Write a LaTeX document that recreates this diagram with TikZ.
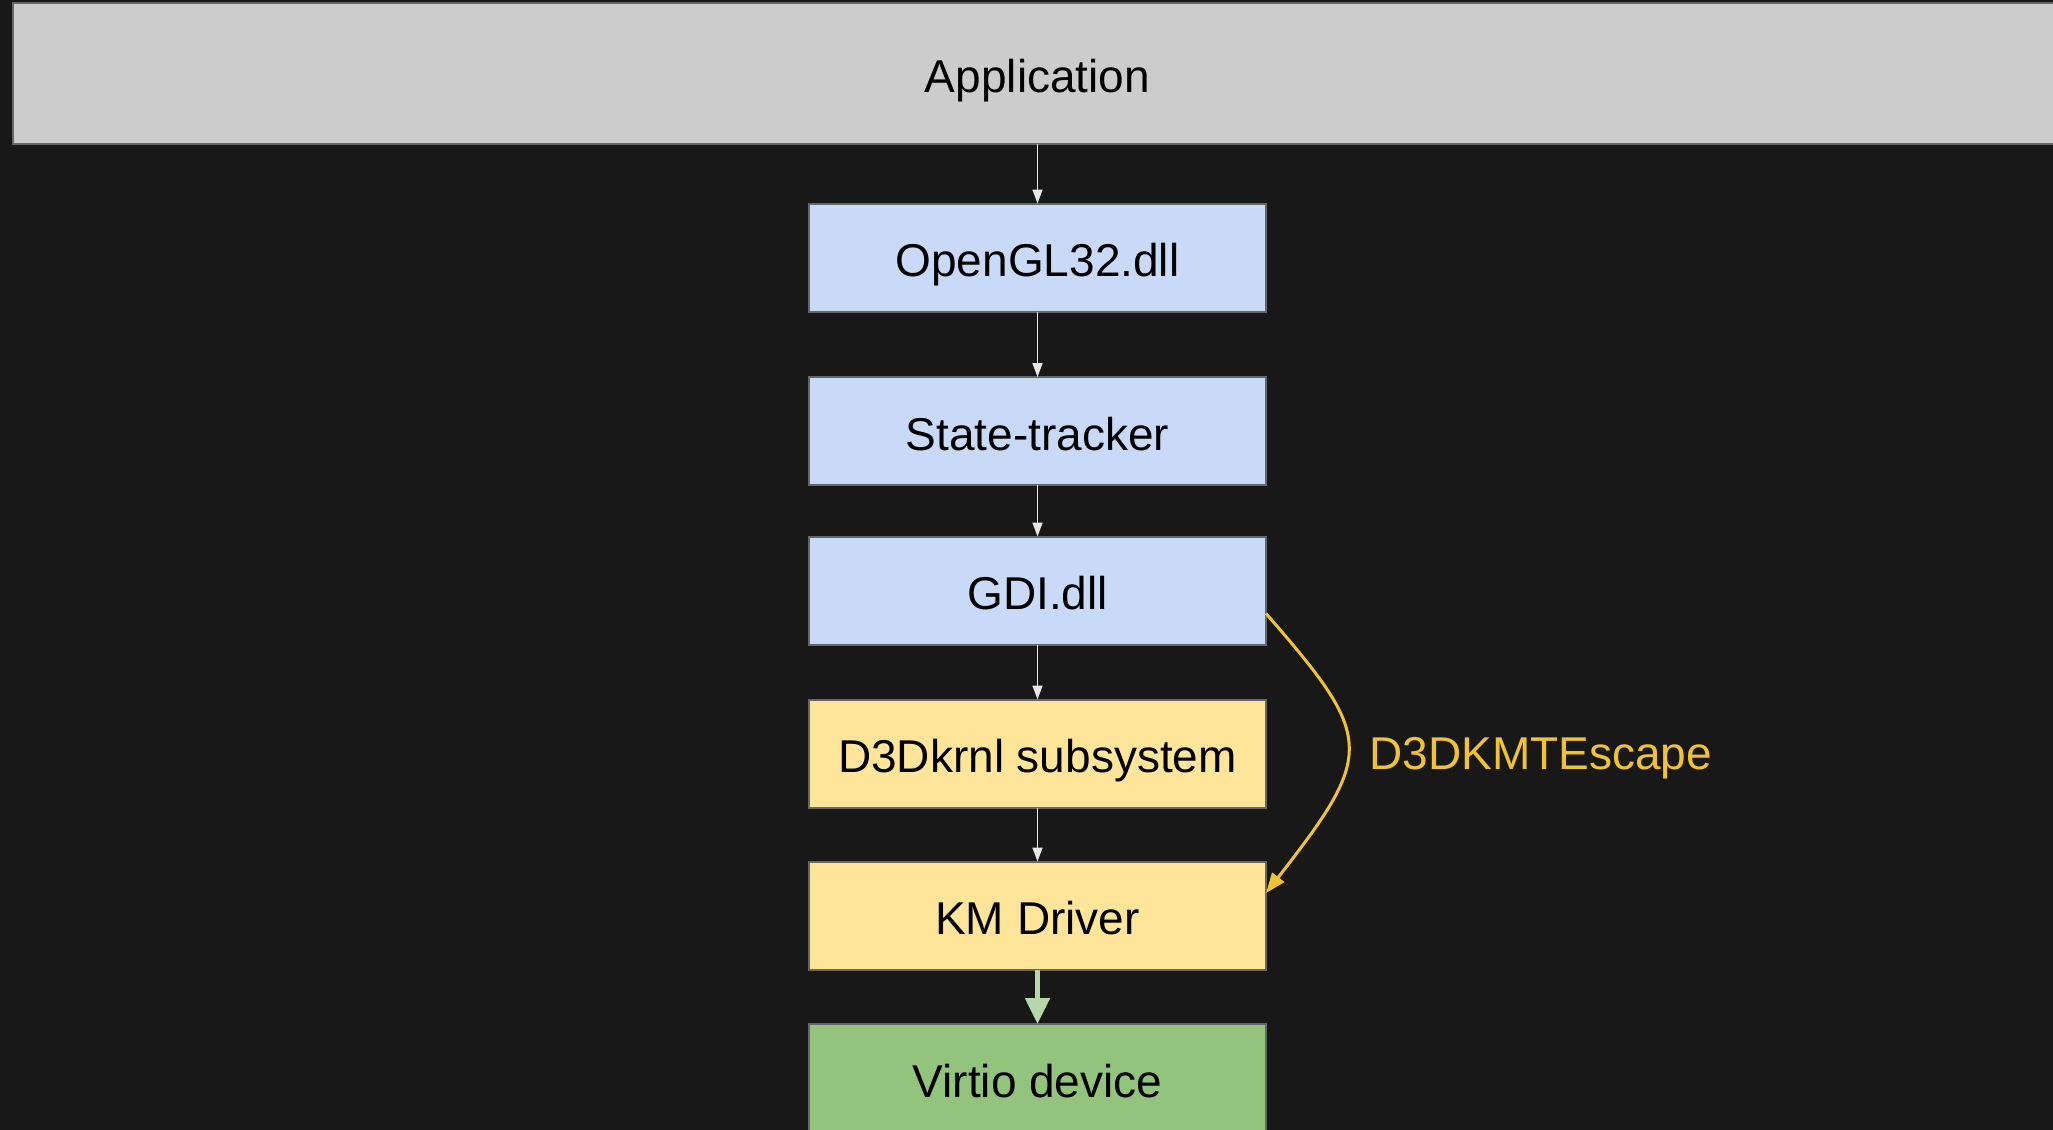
\documentclass[tikz,border=0pt]{standalone}
\usepackage{fontspec}
\setmainfont{Liberation Sans}
\usetikzlibrary{arrows.meta,calc}

\definecolor{bgdark}{HTML}{181818}
\definecolor{appgray}{HTML}{CCCCCC}
\definecolor{userblue}{HTML}{C9DAF8}
\definecolor{kernyellow}{HTML}{FFE599}
\definecolor{devgreen}{HTML}{93C47D}
\definecolor{arrowgreen}{HTML}{B6D7A8}
\definecolor{escyellow}{HTML}{F1C232}
\definecolor{edgegray}{HTML}{666666}
\definecolor{flowwhite}{HTML}{E6E6E6}

\begin{document}
\begin{tikzpicture}[x=0.5pt,y=-0.5pt,
  every node/.style={font=\fontsize{23}{27}\selectfont,
                     text height=19pt, text depth=0pt},
  layer/.style={draw=edgegray, line width=1pt, inner sep=0pt, outer sep=0pt,
                text=black, minimum width=228.5pt, minimum height=54pt},
  flow/.style={draw=flowwhite, line width=0.8pt,
               -{Triangle[length=7pt,width=5pt]}},
  hwflow/.style={draw=arrowgreen, line width=2.5pt,
               -{Triangle[length=13pt,width=12pt]}},
  escflow/.style={draw=escyellow, line width=1.5pt,
               -{Triangle[length=10pt,width=7.5pt]}},
]
  % canvas
  \fill[bgdark] (0,0) rectangle (2053,1130);
  \useasboundingbox (0,0) rectangle (2053,1130);

  % application bar across the top
  \node[layer, fill=appgray, minimum width=1024.5pt, minimum height=70.5pt]
    (app) at (1037.5,73.5) {Application};

  % user-mode stack
  \node[layer, fill=userblue]   (ogl)   at (1037.5,257.5) {OpenGL32.dll};
  \node[layer, fill=userblue]   (state) at (1037.5,431)   {State-tracker};
  \node[layer, fill=userblue]   (gdi)   at (1037.5,590.5) {GDI.dll};

  % kernel-mode stack
  \node[layer, fill=kernyellow] (d3dk)  at (1037.5,753.5) {D3Dkrnl subsystem};
  \node[layer, fill=kernyellow] (km)    at (1037.5,915.5) {KM Driver};

  % device
  \node[layer, fill=devgreen]   (virtio) at (1037.5,1078) {Virtio device};

  % call flow
  \draw[flow] (app) -- (ogl);
  \draw[flow] (ogl) -- (state);
  \draw[flow] (state) -- (gdi);
  \draw[flow] (gdi) -- (d3dk);
  \draw[flow] (d3dk) -- (km);
  \draw[hwflow] (km) -- (virtio);

  % escape path from GDI straight to the driver
  \coordinate (escA) at ($(gdi.east)+(0,23)$);
  \coordinate (escB) at ($(km.east)+(0,-22.5)$);
  \draw[escflow] (escA) .. controls +(109,125) and +(109,-140) .. (escB);
  \node[anchor=west, text=escyellow, inner sep=0pt] (esclbl) at (1369,750) {D3DKMTEscape};
\end{tikzpicture}
\end{document}
